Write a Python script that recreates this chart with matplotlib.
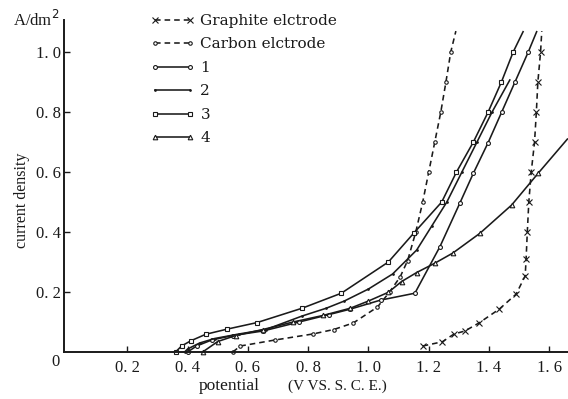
import numpy as np
import matplotlib
matplotlib.use("Agg")
import matplotlib.pyplot as plt

plt.rcParams['font.family'] = ['Liberation Serif', 'DejaVu Serif']

# 電位 (V vs. SCE) と電流密度 (A/dm2)
graphite_x = [1.18, 1.245, 1.284, 1.32, 1.367, 1.434, 1.49, 1.52, 1.523, 1.527,
              1.532, 1.54, 1.551, 1.557, 1.562, 1.571, 1.575]
graphite_y = [0.02, 0.034, 0.06, 0.07, 0.097, 0.143, 0.193, 0.254, 0.31, 0.40,
              0.50, 0.60, 0.70, 0.80, 0.90, 1.00, 1.07]

carbon_x = [0.55, 0.575, 0.69, 0.815, 0.885, 0.95, 1.03, 1.07, 1.105, 1.13,
            1.157, 1.18, 1.20, 1.22, 1.24, 1.257, 1.273, 1.29]
carbon_y = [0.0, 0.02, 0.04, 0.06, 0.075, 0.097, 0.15, 0.20, 0.25, 0.305,
            0.40, 0.50, 0.60, 0.70, 0.80, 0.90, 1.00, 1.07]

s1_x = [0.40, 0.43, 0.48, 0.55, 0.65, 0.77, 0.87, 0.94, 1.04, 1.154,
        1.237, 1.303, 1.348, 1.397, 1.442, 1.486, 1.53, 1.558]
s1_y = [0.0, 0.02, 0.04, 0.055, 0.07, 0.10, 0.125, 0.143, 0.173, 0.196,
        0.351, 0.496, 0.596, 0.698, 0.80, 0.90, 1.00, 1.068]

s2_x = [0.39, 0.40, 0.44, 0.49, 0.57, 0.66, 0.78, 0.86, 0.92, 1.00,
        1.08, 1.16, 1.21, 1.26, 1.31, 1.36, 1.41, 1.469]
s2_y = [0.0, 0.01, 0.03, 0.045, 0.06, 0.075, 0.12, 0.146, 0.17, 0.21,
        0.26, 0.34, 0.42, 0.50, 0.60, 0.70, 0.80, 0.907]

s3_x = [0.36, 0.38, 0.41, 0.46, 0.53, 0.63, 0.78, 0.91, 1.066, 1.15,
        1.243, 1.292, 1.348, 1.397, 1.441, 1.48, 1.513]
s3_y = [0.0, 0.02, 0.037, 0.059, 0.076, 0.098, 0.146, 0.196, 0.30, 0.396,
        0.50, 0.60, 0.70, 0.80, 0.90, 1.00, 1.068]

s4_x = [0.45, 0.50, 0.56, 0.65, 0.75, 0.85, 0.94, 1.00, 1.066, 1.11,
        1.16, 1.22, 1.28, 1.37, 1.475, 1.563, 1.66]
s4_y = [0.0, 0.035, 0.055, 0.075, 0.10, 0.122, 0.146, 0.17, 0.199, 0.235,
        0.265, 0.296, 0.33, 0.396, 0.49, 0.596, 0.71]

x_ticks = [0.2, 0.4, 0.6, 0.8, 1.0, 1.2, 1.4, 1.6]
x_labels = ["0. 2", "0. 4", "0. 6", "0. 8", "1. 0", "1. 2", "1. 4", "1. 6"]
y_ticks = [0.2, 0.4, 0.6, 0.8, 1.0]
y_labels = ["0. 2", "0. 4", "0. 6", "0. 8", "1. 0"]

W, H = 568, 399
fig = plt.figure(figsize=(W / 100, H / 100), dpi=100)
ax = fig.add_axes([64 / W, 47 / H, (W - 64) / W, 332 / H])
ax.set_xlim(-0.01, 1.662)
ax.set_ylim(0, 1.107)

ink = '#1a1a1a'
series = [
    (graphite_x, graphite_y, dict(ls=(0, (3.5, 2.5)), marker='x', ms=3.8, mew=0.8), "Graphite elctrode"),
    (carbon_x, carbon_y, dict(ls=(0, (3.5, 2.5)), marker='o', ms=2.5, mfc='white', mew=0.8), "Carbon elctrode"),
    (s1_x, s1_y, dict(ls='-', marker='o', ms=2.8, mfc='white', mew=0.8), "1"),
    (s2_x, s2_y, dict(ls='-', marker='o', ms=1.4, mfc=ink, mew=0.5), "2"),
    (s3_x, s3_y, dict(ls='-', marker='s', ms=3.0, mfc='white', mew=0.8), "3"),
    (s4_x, s4_y, dict(ls='-', marker='^', ms=3.3, mfc='white', mew=0.8), "4"),
]

handles = []
for xs, ys, style, label in series:
    line, = ax.plot(xs, ys, color=ink, lw=1.15, clip_on=False,
                    markevery=list(range(len(xs) - 1)), label=label, **style)
    handles.append(line)

leg = ax.legend(handles=handles, loc='upper left',
                bbox_to_anchor=(150 / W, (H - 14) / H), bbox_transform=fig.transFigure,
                frameon=False, prop={'family': 'DejaVu Serif', 'size': 11},
                handlelength=2.9, handletextpad=0.4,
                labelspacing=0.62, borderpad=0, borderaxespad=0, numpoints=2)
for h in leg.legend_handles:
    h.set_markevery(None)
for t in leg.get_texts():
    t.set_color(ink)

for side in ('top', 'right'):
    ax.spines[side].set_visible(False)
for side in ('left', 'bottom'):
    ax.spines[side].set_linewidth(1.4)
    ax.spines[side].set_color(ink)

ax.set_xticks(x_ticks)
ax.set_xticklabels(x_labels, fontsize=12)
ax.set_yticks(y_ticks)
ax.set_yticklabels(y_labels, fontsize=12)
ax.tick_params(direction='in', length=4, width=1, colors=ink, pad=6)
ax.tick_params(axis='y', pad=2)

fig.text(55 / W, 1 - 362 / H, "0", fontsize=12, ha='center', va='center', color=ink)
fig.text(36 / W, 1 - 20 / H, "A/dm$^2$", fontsize=12, ha='center', va='center', color=ink)
fig.text(22 / W, 1 - 200 / H, "current density", fontsize=11.5, rotation=90,
         ha='center', va='center', color=ink)
fig.text(229 / W, 1 - 386 / H, "potential", fontsize=12.5, ha='center', va='center', color=ink)
fig.text(337 / W, 1 - 386 / H, "(V VS. S. C. E.)", fontsize=11, ha='center', va='center', color=ink)

fig.savefig("out.png", dpi=100)
